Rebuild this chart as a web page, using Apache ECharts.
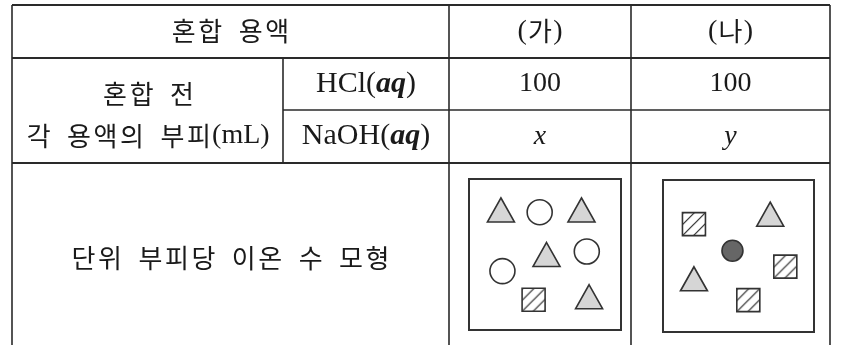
<!DOCTYPE html>
<html>
<head>
<meta charset="utf-8">
<script src="https://cdn.jsdelivr.net/npm/echarts@6/dist/echarts.min.js"></script>
<style>
    html, body { margin: 0; padding: 0; background: #fff; }
    #chart { width: 844px; height: 345px; }
</style>
</head>
<body>
<div id="chart"></div>
<script>
// 표의 글자
const headerLabels = ['혼합 용액', '가', '나']
const beforeLabels = ['혼합 전', '각 용액의 부피']
const volumeUnit = '(mL)'
const solutionNames = ['HCl', 'NaOH']
const volumeGa = ['100', 'x']
const volumeNa = ['100', 'y']
const modelLabel = '단위 부피당 이온 수 모형'

// 모형 속 이온 위치 (상자 안 0~10 좌표, 위에서 아래로)
const triangleGa = [[2.1, 2.05], [7.4, 2.05], [5.1, 5.0], [7.9, 7.8]]
const circleGa = [[4.65, 2.2], [7.75, 4.8], [2.2, 6.1]]
const hatchGa = [[4.25, 8.0]]
const triangleNa = [[7.1, 2.25], [2.05, 6.5]]
const hatchNa = [[2.05, 2.9], [8.1, 5.7], [5.65, 7.9]]
const darkNa = [[4.6, 4.65]]

const KR = "'Noto Sans CJK KR'"
const SERIF = "'Liberation Serif'"
const INK = '#1a1a1a'
const LINE = '#2a2a2a'
const SQUARE = 23
const TILE = 11

// 표 칸 경계 (px)
const colX = [12, 283, 449, 631, 830]
const rowY = [5, 58, 110, 163, 345]

function hatchPattern() {
    const c = document.createElement('canvas')
    c.width = TILE
    c.height = TILE
    const ctx = c.getContext('2d')
    ctx.fillStyle = '#fff'
    ctx.fillRect(0, 0, TILE, TILE)
    ctx.strokeStyle = '#2a2a2a'
    ctx.lineWidth = 1.2
    ctx.beginPath()
    for (const o of [-TILE, 0, TILE]) {
        ctx.moveTo(o - 1, TILE + 1)
        ctx.lineTo(o + TILE + 1, -1)
    }
    ctx.stroke()
    return c
}

function hline(x1, x2, y, w) {
    return { type: 'line', silent: true, shape: { x1, y1: y, x2, y2: y }, style: { stroke: LINE, lineWidth: w || 1.6 } }
}
function vline(x, y1, y2, w) {
    return { type: 'line', silent: true, shape: { x1: x, y1, x2: x, y2 }, style: { stroke: LINE, lineWidth: w || 1.6 } }
}

const rich = {
    k: { fontFamily: KR, fontSize: 26, color: INK, padding: [0, 1.3] },
    s: { fontFamily: KR, fontSize: 26, color: INK, padding: [0, 4] },
    r: { fontFamily: SERIF, fontSize: 28, color: INK },
    n: { fontFamily: SERIF, fontSize: 30, color: INK },
    i: { fontFamily: SERIF, fontSize: 30, fontStyle: 'italic', fontWeight: 'bold', color: INK },
    v: { fontFamily: SERIF, fontSize: 28, fontStyle: 'italic', color: INK },
}

// 한글은 원본처럼 글자 사이를 조금 넓혀 쓴다
const kr = (s) => s.split('').map((c) => (c === ' ' ? '{s| }' : '{k|' + c + '}')).join('')

function label(text, x, y) {
    return {
        type: 'text', silent: true,
        style: { text, x, y, align: 'center', verticalAlign: 'middle', fill: INK, font: '26px ' + KR, rich }
    }
}

const midX = (a, b) => (colX[a] + colX[b]) / 2
const midY = (a, b) => (rowY[a] + rowY[b]) / 2
const valueText = (s) => (/^\d+$/.test(s) ? '{r|' + s + '}' : '{v|' + s + '}')

const graphic = [
    hline(colX[0], colX[4], rowY[0], 2),
    hline(colX[0], colX[4], rowY[1], 2),
    hline(colX[1], colX[4], rowY[2]),
    hline(colX[0], colX[4], rowY[3], 2),
    vline(colX[0], rowY[0], rowY[4]),
    vline(colX[1], rowY[1], rowY[3]),
    vline(colX[2], rowY[0], rowY[4]),
    vline(colX[3], rowY[0], rowY[4]),
    vline(colX[4], rowY[0], rowY[4]),
    label(kr(headerLabels[0]), midX(0, 2), midY(0, 1)),
    label('{r|(}' + kr(headerLabels[1]) + '{r|)}', midX(2, 3), midY(0, 1)),
    label('{r|(}' + kr(headerLabels[2]) + '{r|)}', midX(3, 4), midY(0, 1)),
    label(kr(beforeLabels[0]), midX(0, 1) + 1, 94),
    label(kr(beforeLabels[1]) + '{r|' + volumeUnit + '}', midX(0, 1), 136),
    label(kr(modelLabel), midX(0, 2), 258),
]
solutionNames.forEach((name, k) => {
    const y = midY(1 + k, 2 + k)
    graphic.push(label('{n|' + name + '(}{i|aq}{n|)}', midX(1, 2), y))
    graphic.push(label(valueText(volumeGa[k]), midX(2, 3), y))
    graphic.push(label(valueText(volumeNa[k]), midX(3, 4), y))
})

// 기호는 단위 크기로 그려진 뒤 확대되므로 무늬를 되돌려 축소한다
const hatch = { image: hatchPattern(), repeat: 'repeat', scaleX: 2 / SQUARE, scaleY: 2 / SQUARE }

function ions(data, gridIdx, symbol, size, fill) {
    return {
        type: 'scatter',
        xAxisIndex: gridIdx,
        yAxisIndex: gridIdx,
        data,
        symbol,
        symbolSize: size,
        silent: true,
        animation: false,
        itemStyle: { color: fill, borderColor: '#333', borderWidth: 1.6, opacity: 1 },
    }
}

const chart = echarts.init(document.getElementById('chart'), null, { renderer: 'canvas' })
chart.setOption({
    backgroundColor: '#fff',
    animation: false,
    graphic,
    grid: [
        { left: 469, top: 179, width: 152, height: 151, show: true, borderColor: '#333', borderWidth: 2, backgroundColor: 'transparent' },
        { left: 663, top: 180, width: 151, height: 152, show: true, borderColor: '#333', borderWidth: 2, backgroundColor: 'transparent' },
    ],
    xAxis: [0, 1].map((g) => ({ gridIndex: g, type: 'value', min: 0, max: 10, show: false })),
    yAxis: [0, 1].map((g) => ({ gridIndex: g, type: 'value', min: 0, max: 10, inverse: true, show: false })),
    series: [
        ions(triangleGa, 0, 'triangle', [27, 24], '#d6d6d6'),
        ions(circleGa, 0, 'circle', 25, '#fff'),
        ions(hatchGa, 0, 'rect', SQUARE, hatch),
        ions(triangleNa, 1, 'triangle', [27, 24], '#d6d6d6'),
        ions(hatchNa, 1, 'rect', SQUARE, hatch),
        ions(darkNa, 1, 'circle', 21, '#666'),
    ],
})
</script>
</body>
</html>
